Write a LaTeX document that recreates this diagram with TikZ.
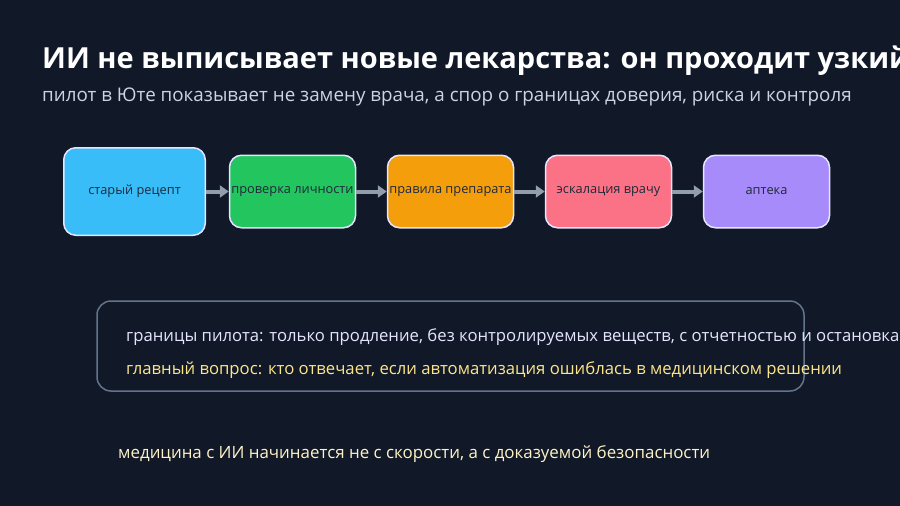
\documentclass[tikz,border=0pt]{standalone}
\usepackage{fontspec}
\setmainfont{Open Sans}
\usetikzlibrary{positioning,arrows.meta}
\definecolor{bg}{HTML}{111827}
\definecolor{stepblue}{HTML}{38BDF8}
\definecolor{stepgreen}{HTML}{22C55E}
\definecolor{steporange}{HTML}{F59E0B}
\definecolor{steppink}{HTML}{FB7185}
\definecolor{steppurple}{HTML}{A78BFA}
\definecolor{boxtext}{HTML}{1E293B}
\definecolor{subtext}{HTML}{CBD5E1}
\definecolor{panelline}{HTML}{64748B}
\definecolor{noteyellow}{HTML}{FDE68A}
\definecolor{footyellow}{HTML}{FEF3C7}

\begin{document}
\begin{tikzpicture}[x=1pt,y=-1pt,
stepbox/.style={
	% The shape:
	rectangle,rounded corners=12pt,
	% The size:
	minimum width=126pt,minimum height=72.5pt,
	% The border:
	draw=white!90!blue,line width=1.5pt,
	% Font
	font=\fontsize{12.8}{14}\selectfont,text=boxtext,inner sep=1pt},
flow/.style={-{Triangle[length=9pt,width=12pt]},line width=4pt,draw=panelline!70!white}]

\useasboundingbox[fill=bg] (0,0) rectangle (900,506);

% title
\node (title) [anchor=base west,text=white,font=\fontsize{29}{32}\selectfont\bfseries,inner sep=0pt]
	at (42,68) {ИИ не выписывает новые лекарства: он проходит узкий};
\node (sub) [anchor=base west,text=subtext,font=\fontsize{18.8}{20}\selectfont,inner sep=0pt]
	at (42,101) {пилот в Юте показывает не замену врача, а спор о границах доверия, риска и контроля};

% steps
\node (old) [stepbox,fill=stepblue,minimum width=141.5pt,minimum height=87.5pt] at (134.5,191.5) {старый рецепт};
\node (id) [stepbox,fill=stepgreen] at (292.5,191.5) {проверка личности};
\node (rules) [stepbox,fill=steporange] at (450.5,191.5) {правила препарата};
\node (esc) [stepbox,fill=steppink] at (608.5,191.5) {эскалация врачу};
\node (pharm) [stepbox,fill=steppurple] at (766.5,191.5) {аптека};

\draw[flow] (old) -- (id);
\draw[flow] (id) -- (rules);
\draw[flow] (rules) -- (esc);
\draw[flow] (esc) -- (pharm);

% panel
\draw[panelline,line width=1.5pt,rounded corners=14pt] (97,301) rectangle (804,391);
\node (limits) [anchor=base west,text=white!90!blue,font=\fontsize{16.7}{18}\selectfont,inner sep=0pt]
	at (126,341) {границы пилота: только продление, без контролируемых веществ, с отчетностью и остановками};
\node (question) [anchor=base west,text=noteyellow,font=\fontsize{16.7}{18}\selectfont,inner sep=0pt]
	at (126,374) {главный вопрос: кто отвечает, если автоматизация ошиблась в медицинском решении};

% footer
\node (foot) [anchor=base west,text=footyellow,font=\fontsize{16.9}{18}\selectfont,inner sep=0pt]
	at (118,458) {медицина с ИИ начинается не с скорости, а с доказуемой безопасности};

\end{tikzpicture}
\end{document}
